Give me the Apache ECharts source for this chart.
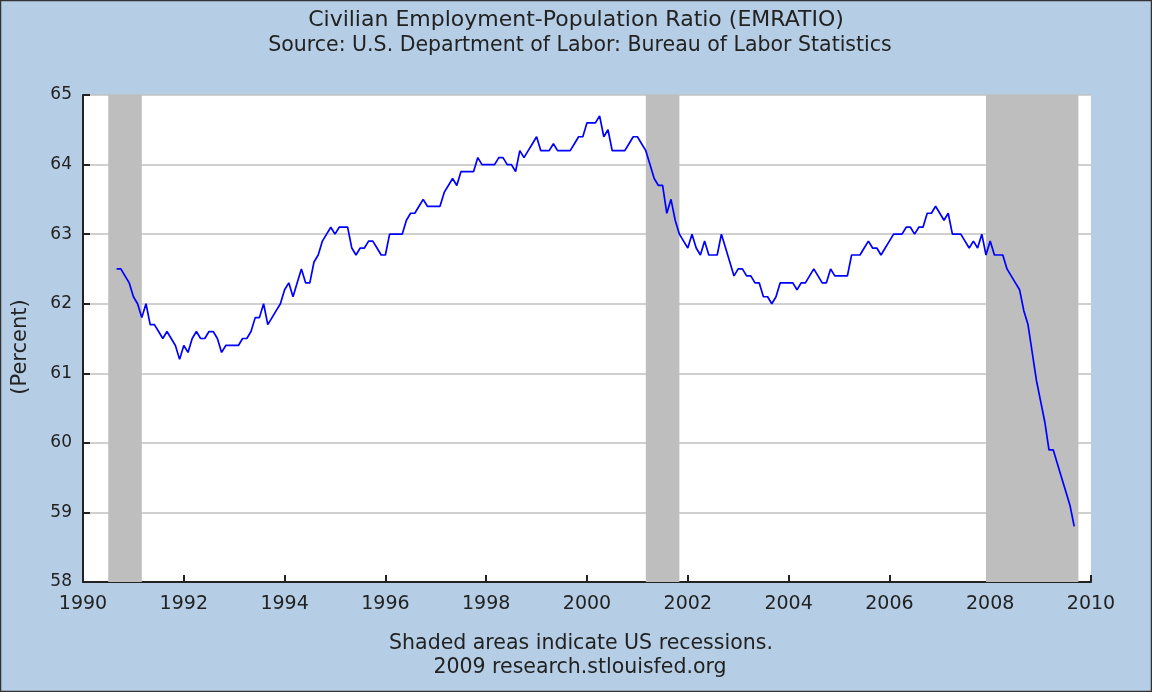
<!DOCTYPE html>
<html>
<head>
<meta charset="utf-8">
<script src="https://cdn.jsdelivr.net/npm/echarts@6/dist/echarts.min.js"></script>
<style>
  html, body { margin: 0; padding: 0; }
  #emratioChart { width: 1152px; height: 692px; }
</style>
</head>
<body>
<div id="emratioChart"></div>
<script>
  // monthly values, first point is Sep 1990
  const startYear = 1990
  const startMonth = 8 // 0-based, September
  const emratio = [
    62.5, 62.5, 62.4, 62.3, 62.1, 62.0, 61.8, 62.0, 61.7, 61.7, 61.6, 61.5,
    61.6, 61.5, 61.4, 61.2, 61.4, 61.3, 61.5, 61.6, 61.5, 61.5, 61.6, 61.6,
    61.5, 61.3, 61.4, 61.4, 61.4, 61.4, 61.5, 61.5, 61.6, 61.8, 61.8, 62.0,
    61.7, 61.8, 61.9, 62.0, 62.2, 62.3, 62.1, 62.3, 62.5, 62.3, 62.3, 62.6,
    62.7, 62.9, 63.0, 63.1, 63.0, 63.1, 63.1, 63.1, 62.8, 62.7, 62.8, 62.8,
    62.9, 62.9, 62.8, 62.7, 62.7, 63.0, 63.0, 63.0, 63.0, 63.2, 63.3, 63.3,
    63.4, 63.5, 63.4, 63.4, 63.4, 63.4, 63.6, 63.7, 63.8, 63.7, 63.9, 63.9,
    63.9, 63.9, 64.1, 64.0, 64.0, 64.0, 64.0, 64.1, 64.1, 64.0, 64.0, 63.9,
    64.2, 64.1, 64.2, 64.3, 64.4, 64.2, 64.2, 64.2, 64.3, 64.2, 64.2, 64.2,
    64.2, 64.3, 64.4, 64.4, 64.6, 64.6, 64.6, 64.7, 64.4, 64.5, 64.2, 64.2,
    64.2, 64.2, 64.3, 64.4, 64.4, 64.3, 64.2, 64.0, 63.8, 63.7, 63.7, 63.3,
    63.5, 63.2, 63.0, 62.9, 62.8, 63.0, 62.8, 62.7, 62.9, 62.7, 62.7, 62.7,
    63.0, 62.8, 62.6, 62.4, 62.5, 62.5, 62.4, 62.4, 62.3, 62.3, 62.1, 62.1,
    62.0, 62.1, 62.3, 62.3, 62.3, 62.3, 62.2, 62.3, 62.3, 62.4, 62.5, 62.4,
    62.3, 62.3, 62.5, 62.4, 62.4, 62.4, 62.4, 62.7, 62.7, 62.7, 62.8, 62.9,
    62.8, 62.8, 62.7, 62.8, 62.9, 63.0, 63.0, 63.0, 63.1, 63.1, 63.0, 63.1,
    63.1, 63.3, 63.3, 63.4, 63.3, 63.2, 63.3, 63.0, 63.0, 63.0, 62.9, 62.8,
    62.9, 62.8, 63.0, 62.7, 62.9, 62.7, 62.7, 62.7, 62.5, 62.4, 62.3, 62.2,
    61.9, 61.7, 61.3, 60.9, 60.6, 60.3, 59.9, 59.9, 59.7, 59.5, 59.3, 59.1,
    58.8
  ]
  // recession spans in decimal years
  const recessions = [
    [1990.5, 1991.1667],
    [2001.1667, 2001.8333],
    [2007.9167, 2009.75]
  ]
  const yTicks = [58, 59, 60, 61, 62, 63, 64, 65]
  const xTicks = [1990, 1992, 1994, 1996, 1998, 2000, 2002, 2004, 2006, 2008, 2010]

  const seriesData = emratio.map((v, i) => [startYear + (startMonth + i) / 12, v])

  const chart = echarts.init(document.getElementById('emratioChart'))
  const fontFamily = 'DejaVu Sans'
  const textColor = '#222'

  // centred text line helper for titles / footnotes
  const textLine = (text, x, y, size) => ({
    type: 'text',
    x: x,
    y: y,
    silent: true,
    style: {
      text: text,
      fill: textColor,
      font: size + 'px "' + fontFamily + '"',
      textAlign: 'center',
      textVerticalAlign: 'middle'
    }
  })

  const option = {
    backgroundColor: '#b5cee5',
    animation: false,
    textStyle: { fontFamily: fontFamily },
    grid: {
      left: 83,
      right: 61,
      top: 95,
      bottom: 110,
      show: true,
      backgroundColor: '#ffffff',
      borderWidth: 0
    },
    xAxis: {
      type: 'value',
      min: xTicks[0],
      max: xTicks[xTicks.length - 1],
      interval: 2,
      axisLine: { show: true, lineStyle: { color: '#222', width: 2 } },
      axisTick: { show: true, inside: true, length: 7, lineStyle: { color: '#222', width: 2 } },
      axisLabel: { color: textColor, fontSize: 19, margin: 13, formatter: (v) => String(v) },
      splitLine: { show: false }
    },
    yAxis: {
      type: 'value',
      min: yTicks[0],
      max: yTicks[yTicks.length - 1],
      interval: 1,
      axisLine: { show: true, lineStyle: { color: '#222', width: 2 } },
      axisTick: { show: true, inside: true, length: 7, lineStyle: { color: '#222', width: 2 } },
      axisLabel: { color: textColor, fontSize: 17, margin: 11 },
      splitLine: { show: true, lineStyle: { color: '#c0c0c0', width: 1.5 } }
    },
    graphic: [
      {
        type: 'rect',
        shape: { x: 0.5, y: 0.5, width: 1151, height: 691 },
        style: { fill: null, stroke: '#333', lineWidth: 1.5 },
        silent: true
      },
      textLine('Civilian Employment-Population Ratio (EMRATIO)', 576, 20, 22),
      textLine('Source: U.S. Department of Labor: Bureau of Labor Statistics', 580, 46, 20.5),
      textLine('Shaded areas indicate US recessions.', 581, 644, 20.5),
      textLine('2009 research.stlouisfed.org', 580, 668, 20.5),
      {
        type: 'text',
        x: 21,
        y: 347,
        rotation: Math.PI / 2,
        silent: true,
        style: {
          text: '(Percent)',
          fill: textColor,
          font: '21px "' + fontFamily + '"',
          textAlign: 'center',
          textVerticalAlign: 'middle'
        }
      }
    ],
    series: [
      {
        name: 'EMRATIO',
        type: 'line',
        data: seriesData,
        showSymbol: false,
        lineStyle: { color: '#0000ff', width: 1.7 },
        z: 3,
        markArea: {
          silent: true,
          itemStyle: { color: '#bebebe' },
          data: recessions.map((r) => [{ xAxis: r[0] }, { xAxis: r[1] }])
        }
      }
    ]
  }
  chart.setOption(option)
</script>
</body>
</html>
